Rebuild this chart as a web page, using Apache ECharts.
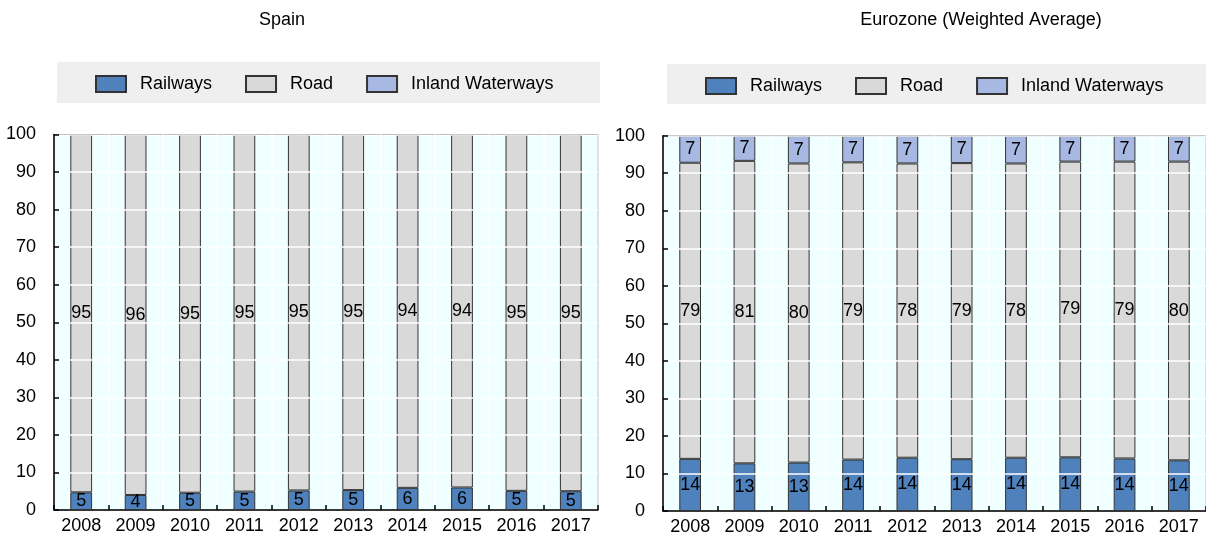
<!DOCTYPE html>
<html>
<head>
<meta charset="utf-8">
<script src="https://cdn.jsdelivr.net/npm/echarts@6/dist/echarts.min.js"></script>
<style>
  html, body { margin: 0; padding: 0; background: #ffffff; }
  #chart { width: 1206px; height: 539px; }
</style>
</head>
<body>
<div id="chart"></div>
<script>
// Modal split of inland freight transport (% of tonne-km)
const years = ['2008', '2009', '2010', '2011', '2012', '2013', '2014', '2015', '2016', '2017'];
const seriesNames = ['Railways', 'Road', 'Inland Waterways'];
const panelTitles = ['Spain', 'Eurozone (Weighted Average)'];

const spainRailways = [4.7, 4.0, 4.6, 4.9, 5.2, 5.3, 5.9, 6.0, 5.1, 5.0];
const spainRoad     = [95.3, 96.0, 95.4, 95.1, 94.8, 94.7, 94.1, 94.0, 94.9, 95.0];
const spainWaterways = [0, 0, 0, 0, 0, 0, 0, 0, 0, 0];

const euroRailways  = [13.9, 12.7, 12.9, 13.7, 14.2, 13.8, 14.2, 14.3, 14.0, 13.5];
const euroRoad      = [78.9, 80.6, 79.7, 79.2, 78.4, 78.9, 78.4, 78.8, 79.1, 79.6];
const euroWaterways = [7.2, 6.7, 7.4, 7.1, 7.4, 7.3, 7.4, 6.9, 6.9, 6.9];

const yTicks = { min: 0, max: 100, interval: 10 };

const colors = { Railways: '#4f81bd', Road: '#d9d9d9', 'Inland Waterways': '#a7b9e3' };
const FONT = '"Liberation Sans", Arial, sans-serif';
const FS = 18;
const TEXT = '#000';

const chart = echarts.init(document.getElementById('chart'), null, { renderer: 'canvas' });

function xAxisFor(idx) {
  return {
    type: 'category', gridIndex: idx, data: years, boundaryGap: true,
    axisLine: { show: true, lineStyle: { color: '#000', width: 1.5 } },
    axisTick: { show: true, inside: true, length: 5, interval: 0, lineStyle: { color: '#000', width: 1.5 } },
    axisLabel: { color: TEXT, fontFamily: FONT, fontSize: FS, margin: 7, interval: 0 },
    splitLine: { show: true, interval: 0, lineStyle: { color: '#ffffff', width: 1.5 } },
    z: 3
  };
}
function yAxisFor(idx) {
  return {
    type: 'value', gridIndex: idx, min: yTicks.min, max: yTicks.max, interval: yTicks.interval,
    axisLine: { show: true, lineStyle: { color: '#000', width: 1.5 } },
    axisTick: { show: true, inside: true, length: 5, lineStyle: { color: '#000', width: 1.5 } },
    axisLabel: { color: TEXT, fontFamily: FONT, fontSize: FS, margin: 18 },
    splitLine: { show: true, lineStyle: { color: '#ffffff', width: 1.5 } },
    z: 3
  };
}
function barSeries(name, data, idx) {
  return {
    name: name, type: 'bar', stack: 'panel' + idx,
    xAxisIndex: idx, yAxisIndex: idx, data: data, barWidth: '40%',
    itemStyle: { color: colors[name], borderColor: '#333', borderWidth: 1 },
    label: {
      show: true, position: 'inside', color: TEXT, fontFamily: FONT, fontSize: FS,
      formatter: p => (p.value ? String(Math.round(p.value)) : '')
    },
    emphasis: { disabled: true },
    animation: false
  };
}
function legendFor(left, top) {
  return {
    data: seriesNames, left: left, top: top, orient: 'horizontal', padding: 0,
    itemWidth: 30, itemHeight: 16, itemGap: 33, selectedMode: false,
    icon: 'rect',
    textStyle: { color: TEXT, fontFamily: FONT, fontSize: FS, padding: [0, 0, 0, 9] }
  };
}

const option = {
  animation: false,
  backgroundColor: '#ffffff',
  graphic: [
    { type: 'rect', shape: { x: 57, y: 62, width: 543, height: 41 }, style: { fill: '#efefef' }, z: -10, silent: true },
    { type: 'rect', shape: { x: 667, y: 64, width: 540, height: 40 }, style: { fill: '#efefef' }, z: -10, silent: true },
    { type: 'text', x: 282, y: 11, style: { text: panelTitles[0], fill: TEXT, font: FS + 'px ' + FONT, textAlign: 'center' } },
    { type: 'text', x: 981, y: 11, style: { text: panelTitles[1], fill: TEXT, font: FS + 'px ' + FONT, textAlign: 'center' } }
  ],
  legend: [legendFor(95, 75), legendFor(705, 77)],
  grid: [
    { left: 54, top: 134.5, width: 544, height: 375.5, show: true, backgroundColor: '#f0ffff', borderColor: '#000', borderWidth: 1 },
    { left: 663, top: 135.7, width: 545, height: 375.3, show: true, backgroundColor: '#f0ffff', borderColor: '#000', borderWidth: 1 }
  ],
  xAxis: [xAxisFor(0), xAxisFor(1)],
  yAxis: [yAxisFor(0), yAxisFor(1)],
  series: [
    barSeries('Railways', spainRailways, 0),
    barSeries('Road', spainRoad, 0),
    barSeries('Inland Waterways', spainWaterways, 0),
    barSeries('Railways', euroRailways, 1),
    barSeries('Road', euroRoad, 1),
    barSeries('Inland Waterways', euroWaterways, 1)
  ]
};

chart.setOption(option);
</script>
</body>
</html>
